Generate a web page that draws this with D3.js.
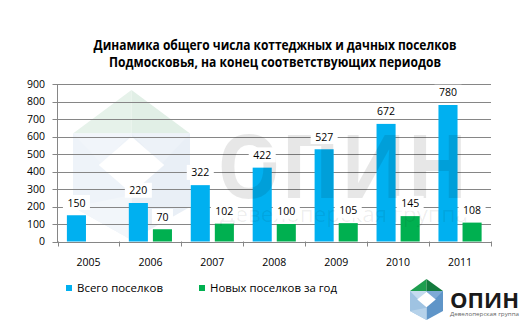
<!DOCTYPE html>
<html>
<head>
<meta charset="utf-8">
<script src="https://cdn.jsdelivr.net/npm/d3@7"></script>
<style>
  html, body { margin: 0; padding: 0; background: #fff; }
  svg { display: block; }
  text { font-family: "Open Sans", "Noto Sans", sans-serif; }
</style>
</head>
<body>
<svg id="chart" width="531" height="333"></svg>
<script>
const titleLines = ["Динамика общего числа коттеджных и дачных поселков",
                    "Подмосковья, на конец соответствующих периодов"];
const years = ["2005", "2006", "2007", "2008", "2009", "2010", "2011"];
const totalVillages = [150, 220, 322, 422, 527, 672, 780];
const newVillages = [null, 70, 102, 100, 105, 145, 108];
const seriesNames = ["Всего поселков", "Новых поселков за год"];
const seriesColors = ["#00b0f0", "#00b050"];
const yTicks = [0, 100, 200, 300, 400, 500, 600, 700, 800, 900];

const svg = d3.select("#chart");
const W = 531, H = 333;
svg.append("rect").attr("width", W).attr("height", H).attr("fill", "#fff");

const plot = { left: 57.5, right: 491, top: 84, bottom: 241.5 };

const x = d3.scaleBand().domain(years).range([plot.left, plot.right]).paddingInner(0).paddingOuter(0);
const xs = d3.scaleBand().domain([0, 1]).range([0, x.bandwidth()]).paddingInner(0.208).paddingOuter(0.39);
const y = d3.scaleLinear().domain([0, 900]).range([plot.bottom, plot.top]);

function logo(g, x0, y0, w, h, cols) {
  const P = (u, v) => [x0 + u * w, y0 + v * h];
  const poly = (pts, fill) => g.append("polygon").attr("points", pts.map(p => P(p[0], p[1]).join(",")).join(" ")).attr("fill", fill);
  poly([[0.5, 0], [0, 0.29], [0.5, 0.29]], cols.roofL);
  poly([[0.5, 0], [1, 0.29], [0.5, 0.29]], cols.roofR);
  poly([[0, 0.29], [0.5, 0.29], [0.5, 1], [0, 0.78]], cols.bodyL);
  poly([[1, 0.29], [0.5, 0.29], [0.5, 1], [1, 0.78]], cols.bodyR);
  poly([[0, 0.29], [0.5, 0.29], [0.25, 0.5]], cols.upL);
  poly([[1, 0.29], [0.5, 0.29], [0.75, 0.5]], cols.upR);
  poly([[0.5, 0.7], [0, 0.78], [0.5, 1]], cols.lowL);
  poly([[0.5, 0.31], [0.78, 0.5], [0.5, 0.69], [0.22, 0.5]], "#fff");
}

const wm = svg.append("g");
logo(wm, 73, 90, 117, 150, {
  roofL: "#e6f2ea", roofR: "#e1efe6",
  bodyL: "#eef3f9", bodyR: "#e9eff6", upL: "#f1f5fa", upR: "#edf2f8", lowL: "#f2f6fa"
});

svg.append("g").selectAll("line").data(yTicks).join("line")
  .attr("x1", plot.left - 5).attr("x2", plot.right)
  .attr("y1", d => Math.round(y(d)) + 0.5).attr("y2", d => Math.round(y(d)) + 0.5)
  .attr("stroke", "#868686").attr("stroke-width", 1);

svg.append("line").attr("x1", plot.left).attr("x2", plot.left)
  .attr("y1", plot.top).attr("y2", plot.bottom + 0.5)
  .attr("stroke", "#868686");

svg.append("g").selectAll("text").data(yTicks).join("text")
  .attr("x", 45).attr("y", d => y(d) + 3.8)
  .attr("text-anchor", "end").attr("font-size", 10.5).attr("fill", "#000")
  .text(d => d);

const xb = years.map(d => x(d)).concat([plot.right]);
svg.append("g").selectAll("line").data(xb).join("line")
  .attr("x1", d => Math.round(d) + 0.5).attr("x2", d => Math.round(d) + 0.5)
  .attr("y1", plot.bottom).attr("y2", plot.bottom + 5)
  .attr("stroke", "#868686");

svg.append("g").selectAll("text").data(years).join("text")
  .attr("x", d => x(d) + x.bandwidth() / 2).attr("y", 265.5)
  .attr("text-anchor", "middle").attr("font-size", 10.5).attr("fill", "#000")
  .text(d => d);

const barData = [];
years.forEach((yr, i) => {
  barData.push({ yr, s: 0, v: totalVillages[i] });
  if (newVillages[i] != null) barData.push({ yr, s: 1, v: newVillages[i] });
});
svg.append("g").selectAll("rect").data(barData).join("rect")
  .attr("x", d => x(d.yr) + xs(d.s)).attr("width", xs.bandwidth())
  .attr("y", d => y(d.v)).attr("height", d => plot.bottom - y(d.v))
  .attr("fill", d => seriesColors[d.s]);

svg.append("text").attr("x", 217).attr("y", 198)
  .attr("font-size", 88).attr("font-weight", 700).attr("fill", "#000").attr("fill-opacity", 0.095)
  .attr("textLength", 251).attr("lengthAdjust", "spacingAndGlyphs")
  .text("ОПИН");
svg.append("text").attr("x", 220).attr("y", 222)
  .attr("font-size", 21).attr("font-weight", 400).attr("fill", "#000").attr("fill-opacity", 0.07)
  .attr("textLength", 248).attr("lengthAdjust", "spacingAndGlyphs")
  .text("Девелоперская группа");

const lab = svg.append("g").selectAll("g").data(barData).join("g");
lab.each(function (d) {
  const g = d3.select(this);
  const cx = x(d.yr) + xs(d.s) + xs.bandwidth() / 2;
  const by = y(d.v) - 8.75;
  const t = g.append("text").attr("x", cx).attr("y", by).attr("text-anchor", "middle")
    .attr("font-size", 10.5).attr("fill", "#000").text(d.v);
  const w = t.node().getComputedTextLength();
  g.insert("rect", "text").attr("x", cx - w / 2 - 4.5).attr("y", by - 11.5)
    .attr("width", w + 9).attr("height", 15).attr("fill", "#fff");
});

const titleSize = 13.5;
[[titleLines[0], 50, 363], [titleLines[1], 67, 332]].forEach(([s, yy, tw]) => {
  const t = svg.append("text").attr("x", 275).attr("y", yy).attr("text-anchor", "middle")
    .attr("font-size", titleSize).attr("font-weight", 700).attr("fill", "#000").text(s);
  const w = t.node().getComputedTextLength();
  if (Math.abs(w - tw) > 3) t.attr("textLength", tw).attr("lengthAdjust", "spacingAndGlyphs");
});

const legX = [66, 199];
const legW = [86, 127];
seriesNames.forEach((n, i) => {
  svg.append("rect").attr("x", legX[i]).attr("y", 285).attr("width", 6).attr("height", 6)
    .attr("fill", seriesColors[i]);
  const t = svg.append("text").attr("x", legX[i] + 11).attr("y", 291.5)
    .attr("font-size", 11).attr("fill", "#000").text(n);
  const w = t.node().getComputedTextLength();
  if (Math.abs(w - legW[i]) > 2) t.attr("textLength", legW[i]).attr("lengthAdjust", "spacingAndGlyphs");
});

const lg = svg.append("g");
logo(lg, 410, 279, 33, 41, {
  roofL: "#1e9e4f", roofR: "#137a3d",
  bodyL: "#9fc3e2", bodyR: "#5f95c8", upL: "#c5dbef", upR: "#7eaad6", lowL: "#b6d2ea"
});
svg.append("text").attr("x", 450).attr("y", 307.5)
  .attr("font-size", 21).attr("font-weight", 700).attr("fill", "#1a1a1a")
  .attr("textLength", 69).attr("lengthAdjust", "spacingAndGlyphs").text("ОПИН");
svg.append("text").attr("x", 450).attr("y", 315.5)
  .attr("font-size", 6).attr("fill", "#666")
  .attr("textLength", 69).attr("lengthAdjust", "spacingAndGlyphs").text("Девелоперская группа");
</script>
</body>
</html>
